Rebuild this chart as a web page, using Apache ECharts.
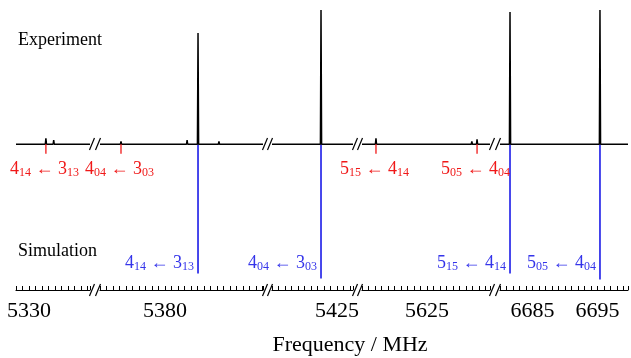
<!DOCTYPE html>
<html>
<head>
<meta charset="utf-8">
<script src="https://cdn.jsdelivr.net/npm/echarts@6/dist/echarts.min.js"></script>
<style>
  html, body { margin: 0; padding: 0; background: #fff; }
  #chart { width: 631px; height: 358px; }
</style>
</head>
<body>
<div id="chart"></div>
<script>
// axis segments (broken frequency axis), MHz
var segMin = [5328, 5370, 5415, 5615, 6680];
var segMax = [5339.38, 5395.08, 5427.46, 5634.69, 6699.69];
var segTickLabels = [[5330], [5380], [5425], [5625], [6685, 6695]];

// transition labels: [upper J, upper KaKc, lower J, lower KaKc]
var transitions = [
    ['4', '14', '3', '13'],
    ['4', '04', '3', '03'],
    ['5', '15', '4', '14'],
    ['5', '05', '4', '04']
];

// parent species: observed peaks and simulated sticks
var parentFreq = [5385.08, 5422.54, 6681.54, 6695.38];
var parentExpInt = [0.816, 0.985, 0.97, 0.985];
var parentSimInt = [0.949, 0.985, 0.949, 0.993];

// weaker species (red markers)
var minorFreq = [5332.6, 5373.23, 5617.15, 5632.7];
var minorExpInt = [0.044, 0.02, 0.044, 0.035];

// other small features on the experimental trace
var bumpFreq = [5333.8, 5383.4, 5388.3, 5631.9];
var bumpInt = [0.03, 0.03, 0.02, 0.02];

var PX_PER_MHZ = 6.5;
var gridLefts = [16, 100, 272, 362, 500];
var AXIS_Y = 290;
var BASE_Y = 144;
var FONT = "'Liberation Serif', 'Times New Roman', serif";
var RED = '#f01818';
var BLUE = '#3434ea';

var chart = echarts.init(document.getElementById('chart'));

function segOf(f) {
    for (var i = 0; i < segMin.length; i++) {
        if (f >= segMin[i] && f <= segMax[i]) return i;
    }
    return -1;
}

function labelText(t) {
    return '{m|' + t[0] + '}{s|' + t[1] + '}{m| \u2190 ' + t[2] + '}{s|' + t[3] + '}';
}

function richStyle(color) {
    return {
        m: { fontSize: 18, lineHeight: 20, fontFamily: FONT, fill: color },
        s: { fontSize: 12, lineHeight: 12, fontFamily: FONT, fill: color, verticalAlign: 'bottom' }
    };
}

var grids = [], xAxes = [], yAxes = [], series = [], graphics = [];

for (var i = 0; i < segMin.length; i++) {
    var width = (segMax[i] - segMin[i]) * PX_PER_MHZ;
    grids.push({ left: gridLefts[i], width: width, top: 8, bottom: 358 - AXIS_Y });
    (function (labels) {
        xAxes.push({
            gridIndex: i,
            type: 'value',
            min: segMin[i],
            max: segMax[i],
            interval: 1,
            axisLine: { onZero: false, lineStyle: { color: '#000', width: 1.2 } },
            axisTick: { inside: true, length: 4, lineStyle: { color: '#000', width: 1 } },
            axisLabel: {
                margin: 10,
                fontSize: 22,
                fontFamily: FONT,
                color: '#000',
                showMinLabel: true,
                showMaxLabel: true,
                formatter: function (v) {
                    return labels.indexOf(Math.round(v * 100) / 100) >= 0 ? String(v) : '';
                }
            },
            splitLine: { show: false }
        });
    })(segTickLabels[i]);
    yAxes.push({ gridIndex: i, type: 'value', min: -1.07, max: 1.0, show: false, splitLine: { show: false } });

    // experimental trace for this segment
    var feats = [];
    parentFreq.forEach(function (f, k) { if (segOf(f) === i) feats.push([f, parentExpInt[k]]); });
    minorFreq.forEach(function (f, k) { if (segOf(f) === i) feats.push([f, minorExpInt[k]]); });
    bumpFreq.forEach(function (f, k) { if (segOf(f) === i) feats.push([f, bumpInt[k]]); });
    feats.sort(function (a, b) { return a[0] - b[0]; });
    var pts = [[segMin[i], 0]];
    feats.forEach(function (p) {
        pts.push([p[0] - 0.09, 0], [p[0], p[1]], [p[0] + 0.09, 0]);
    });
    pts.push([segMax[i], 0]);
    series.push({
        type: 'line',
        xAxisIndex: i,
        yAxisIndex: i,
        data: pts,
        showSymbol: false,
        symbol: 'none',
        lineStyle: { color: '#000', width: 1.5 },
        silent: true
    });

    // simulated sticks (blue, pointing down)
    var sim = [];
    parentFreq.forEach(function (f, k) { if (segOf(f) === i) sim.push([f, parentSimInt[k], k]); });
    series.push({
        type: 'custom',
        xAxisIndex: i,
        yAxisIndex: i,
        clip: false,
        z: 2,
        data: sim,
        renderItem: function (params, api) {
            var f = api.value(0), v = api.value(1), k = api.value(2);
            var p0 = api.coord([f, 0]);
            var p1 = api.coord([f, -v]);
            return {
                type: 'group',
                children: [
                    { type: 'line', shape: { x1: p0[0], y1: p0[1], x2: p1[0], y2: p1[1] },
                      style: { stroke: BLUE, lineWidth: 1.8 } },
                    { type: 'text', style: {
                        text: labelText(transitions[k]), x: p0[0] - 4, y: 263,
                        align: 'right', verticalAlign: 'middle',
                        fontSize: 18, fontFamily: FONT, fill: BLUE, rich: richStyle(BLUE) } }
                ]
            };
        }
    });

    // weaker species markers (red), drawn above the blue sticks
    var mk = [];
    minorFreq.forEach(function (f, k) { if (segOf(f) === i) mk.push([f, k]); });
    series.push({
        type: 'custom',
        xAxisIndex: i,
        yAxisIndex: i,
        clip: false,
        z: 5,
        data: mk,
        renderItem: function (params, api) {
            var f = api.value(0), k = api.value(1);
            var p0 = api.coord([f, 0]);
            var p1 = api.coord([f, -0.07]);
            return {
                type: 'group',
                children: [
                    { type: 'line', shape: { x1: p0[0], y1: p0[1], x2: p1[0], y2: p1[1] },
                      style: { stroke: RED, lineWidth: 1.3 } },
                    { type: 'text', style: {
                        text: labelText(transitions[k]), x: p0[0] - 1.5, y: 169,
                        align: 'center', verticalAlign: 'middle',
                        fontSize: 18, fontFamily: FONT, fill: RED, rich: richStyle(RED) } }
                ]
            };
        }
    });

    // break marks between segments
    if (i < segMin.length - 1) {
        var xe = gridLefts[i] + width;
        var xs = gridLefts[i + 1];
        [AXIS_Y, BASE_Y].forEach(function (y) {
            [xe + 2, xs - 2].forEach(function (x) {
                graphics.push({
                    type: 'line',
                    shape: { x1: x - 2.5, y1: y + 6, x2: x + 2.5, y2: y - 6 },
                    style: { stroke: '#000', lineWidth: 1.2 }
                });
            });
        });
    }
}

graphics.push(
    { type: 'text', x: 18, y: 40, style: { text: 'Experiment', fontSize: 18, fontFamily: FONT, fill: '#000', verticalAlign: 'middle' } },
    { type: 'text', x: 18, y: 251, style: { text: 'Simulation', fontSize: 18, fontFamily: FONT, fill: '#000', verticalAlign: 'middle' } },
    { type: 'text', x: 350, y: 345, style: { text: 'Frequency / MHz', fontSize: 22, fontFamily: FONT, fill: '#000', align: 'center', verticalAlign: 'middle' } }
);

chart.setOption({
    animation: false,
    backgroundColor: '#fff',
    grid: grids,
    xAxis: xAxes,
    yAxis: yAxes,
    series: series,
    graphic: graphics
});
</script>
</body>
</html>
